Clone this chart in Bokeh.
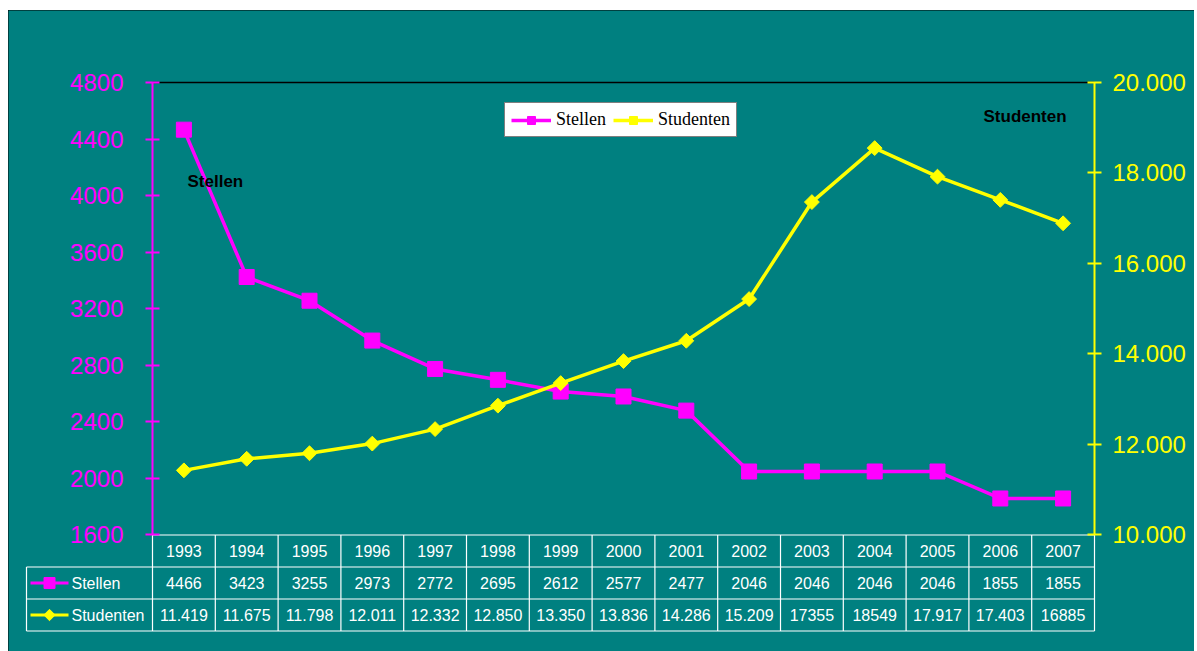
import math
from bokeh.plotting import figure
from bokeh.models import Range1d, LinearAxis, FixedTicker, Label, Legend, LegendItem, ColumnDataSource
from bokeh.core.properties import value
from bokeh.embed import file_html
from bokeh.resources import INLINE

# ---------------- data ----------------
years = [1993, 1994, 1995, 1996, 1997, 1998, 1999, 2000, 2001, 2002, 2003, 2004, 2005, 2006, 2007]
stellen = [4466, 3423, 3255, 2973, 2772, 2695, 2612, 2577, 2477, 2046, 2046, 2046, 2046, 1855, 1855]
studenten = [11419, 11675, 11798, 12011, 12332, 12850, 13350, 13836, 14286, 15209, 17355, 18549, 17917, 17403, 16885]
year_labels = ["1993", "1994", "1995", "1996", "1997", "1998", "1999", "2000", "2001", "2002", "2003", "2004", "2005", "2006", "2007"]
stellen_labels = ["4466", "3423", "3255", "2973", "2772", "2695", "2612", "2577", "2477", "2046", "2046", "2046", "2046", "1855", "1855"]
studenten_labels = ["11.419", "11.675", "11.798", "12.011", "12.332", "12.850", "13.350", "13.836", "14.286", "15.209", "17355", "18549", "17.917", "17.403", "16885"]
series_names = ["Stellen", "Studenten"]
left_ticks = [1600, 2000, 2400, 2800, 3200, 3600, 4000, 4400, 4800]
right_ticks = [10000, 12000, 14000, 16000, 18000, 20000]
right_tick_labels = ["10.000", "12.000", "14.000", "16.000", "18.000", "20.000"]

# ---------------- style / layout ----------------
TEAL = "#008080"
MAG = "#FF00FF"
YEL = "#FFFF00"
SANS = "Liberation Sans"
SERIF = "Liberation Serif"

FIG_X, FIG_Y, FIG_W, FIG_H = 8, 10, 1186, 641
FRAME_L, FRAME_R, FRAME_T, FRAME_B = FIG_X, FIG_X + FIG_W, FIG_Y, FIG_Y + FIG_H   # page pixels
AX_L, AX_R, AX_T, AX_B = 152, 1094, 82, 534              # axis box page pixels
ROW_H = 32.0
TBL_BOTTOM = 630.5

n = len(years)
K = (AX_R - AX_L) / n                  # px per year
x_first_edge = years[0] - 0.5 - (AX_L - 26) / K   # left edge of table legend column
x_start = years[0] - 0.5 - (AX_L - FRAME_L) / K
x_end = years[-1] + 0.5 + (FRAME_R - AX_R) / K

lmin, lmax = left_ticks[0], left_ticks[-1]
rmin, rmax = right_ticks[0], right_ticks[-1]
kl = (AX_B - AX_T) / (lmax - lmin)
kr = (AX_B - AX_T) / (rmax - rmin)
yl = Range1d(lmin - (FRAME_B - AX_B) / kl, lmax + (AX_T - FRAME_T) / kl)
yr = Range1d(rmin - (FRAME_B - AX_B) / kr, rmax + (AX_T - FRAME_T) / kr)
yt = Range1d(-(FRAME_B - TBL_BOTTOM) / ROW_H, (TBL_BOTTOM - FRAME_T) / ROW_H)

def px2x(px):
    return x_start + (px - FRAME_L) / K

p = figure(width=FIG_W, height=FIG_H, x_range=Range1d(x_start, x_end), y_range=yl,
           x_axis_location=None, y_axis_location=None, toolbar_location=None,
           output_backend="svg",
           min_border_left=0, min_border_right=0, min_border_top=0, min_border_bottom=0,
           background_fill_color=TEAL, border_fill_color=TEAL, outline_line_color=None,
           margin=(FIG_Y, 0, 0, FIG_X),
           styles={"outline": "2px solid black", "outline-offset": "-2px"})
for g in p.grid:
    g.visible = False
p.extra_y_ranges = {"right": yr, "tbl": yt}

# ---------------- table ----------------
edges = [y - 0.5 for y in years] + [years[-1] + 0.5]
hx0 = [edges[0], x_first_edge, x_first_edge, x_first_edge]
hx1 = [edges[-1]] * 4
hy = [3, 2, 1, 0]
p.segment(x0=hx0, y0=hy, x1=hx1, y1=hy, y_range_name="tbl", line_color="white", line_width=1.2)
vx = [x_first_edge] + edges
vy0 = [0] * len(vx)
vy1 = [2] + [3] * len(edges)
p.segment(x0=vx, y0=vy0, x1=vx, y1=vy1, y_range_name="tbl", line_color="white", line_width=1.2)

tsrc = ColumnDataSource(dict(x=years, yr=year_labels, st=stellen_labels, su=studenten_labels,
                             r3=[2.5] * n, r2=[1.5] * n, r1=[0.5] * n))
for col, row in (("yr", "r3"), ("st", "r2"), ("su", "r1")):
    p.text(x="x", y=row, text=col, source=tsrc, y_range_name="tbl",
           text_color="white", text_font=value(SANS), text_font_size="16px",
           text_align="center", text_baseline="middle")

# table legend column
lx0, lx1, lxm = px2x(30), px2x(68), px2x(49)
p.segment(x0=[lx0], y0=[1.5], x1=[lx1], y1=[1.5], y_range_name="tbl", line_color=MAG, line_width=3)
p.scatter(x=[lxm], y=[1.5], y_range_name="tbl", marker="square", size=11, fill_color=MAG, line_color=MAG)
p.segment(x0=[lx0], y0=[0.5], x1=[lx1], y1=[0.5], y_range_name="tbl", line_color=YEL, line_width=3)
p.scatter(x=[lxm], y=[0.5], y_range_name="tbl", marker="square", angle=math.pi / 4, size=8,
          fill_color=YEL, line_color=YEL)
p.text(x=[px2x(71)] * 2, y=[1.5, 0.5], text=series_names, y_range_name="tbl",
       text_color="white", text_font=value(SANS), text_font_size="16px",
       text_align="left", text_baseline="middle")

# top border of the plot area
p.segment(x0=[edges[0]], y0=[lmax], x1=[edges[-1]], y1=[lmax], line_color="black", line_width=1.5)

# ---------------- series ----------------
src = ColumnDataSource(dict(year=years, stellen=stellen, studenten=studenten))
r1l = p.line("year", "stellen", source=src, line_color=MAG, line_width=3.5)
r1m = p.scatter("year", "stellen", source=src, marker="square", size=15, fill_color=MAG, line_color=MAG)
r2l = p.line("year", "studenten", source=src, y_range_name="right", line_color=YEL, line_width=3.5)
r2m = p.scatter("year", "studenten", source=src, y_range_name="right", marker="square",
                angle=math.pi / 4, size=10.5, fill_color=YEL, line_color=YEL)

# ---------------- axes ----------------
ax_l = LinearAxis(ticker=FixedTicker(ticks=left_ticks), bounds=(lmin, lmax), fixed_location=edges[0],
                  axis_line_color=MAG, axis_line_width=2,
                  major_tick_line_color=MAG, major_tick_line_width=2, major_tick_in=7, major_tick_out=7,
                  minor_tick_line_color=None,
                  major_label_text_color=MAG, major_label_text_font=SANS,
                  major_label_text_font_size="24px", major_label_standoff=22)
p.add_layout(ax_l, "left")

ax_r = LinearAxis(y_range_name="right", ticker=FixedTicker(ticks=right_ticks), bounds=(rmin, rmax),
                  fixed_location=edges[-1],
                  major_label_overrides={t: s for t, s in zip(right_ticks, right_tick_labels)},
                  axis_line_color=YEL, axis_line_width=2,
                  major_tick_line_color=YEL, major_tick_line_width=2, major_tick_in=7, major_tick_out=7,
                  minor_tick_line_color=None,
                  major_label_text_color=YEL, major_label_text_font=SANS,
                  major_label_text_font_size="24px", major_label_standoff=11)
p.add_layout(ax_r, "right")

# ---------------- annotations ----------------
p.add_layout(Label(x=px2x(187), y=lmax - (181 - AX_T) / kl, text=series_names[0],
                   text_font=SANS, text_font_size="17px", text_font_style="bold",
                   text_color="black", text_baseline="middle"))
p.add_layout(Label(x=px2x(983), y=rmax - (116 - AX_T) / kr, y_range_name="right", text=series_names[1],
                   text_font=SANS, text_font_size="17px", text_font_style="bold",
                   text_color="black", text_baseline="middle"))

legend = Legend(items=[LegendItem(label=series_names[0], renderers=[r1l, r1m]),
                       LegendItem(label=series_names[1], renderers=[r2l, r2m])],
                orientation="horizontal", location=(504 - FRAME_L, FRAME_B - 137),
                background_fill_color="white", background_fill_alpha=1.0,
                border_line_color="black", border_line_width=1,
                label_text_font=SERIF, label_text_font_size="18px", label_text_color="black",
                glyph_width=40, glyph_height=20, label_standoff=5, spacing=7,
                padding=6, margin=0)
p.add_layout(legend)

open("out.html", "w").write(file_html(p, INLINE))
